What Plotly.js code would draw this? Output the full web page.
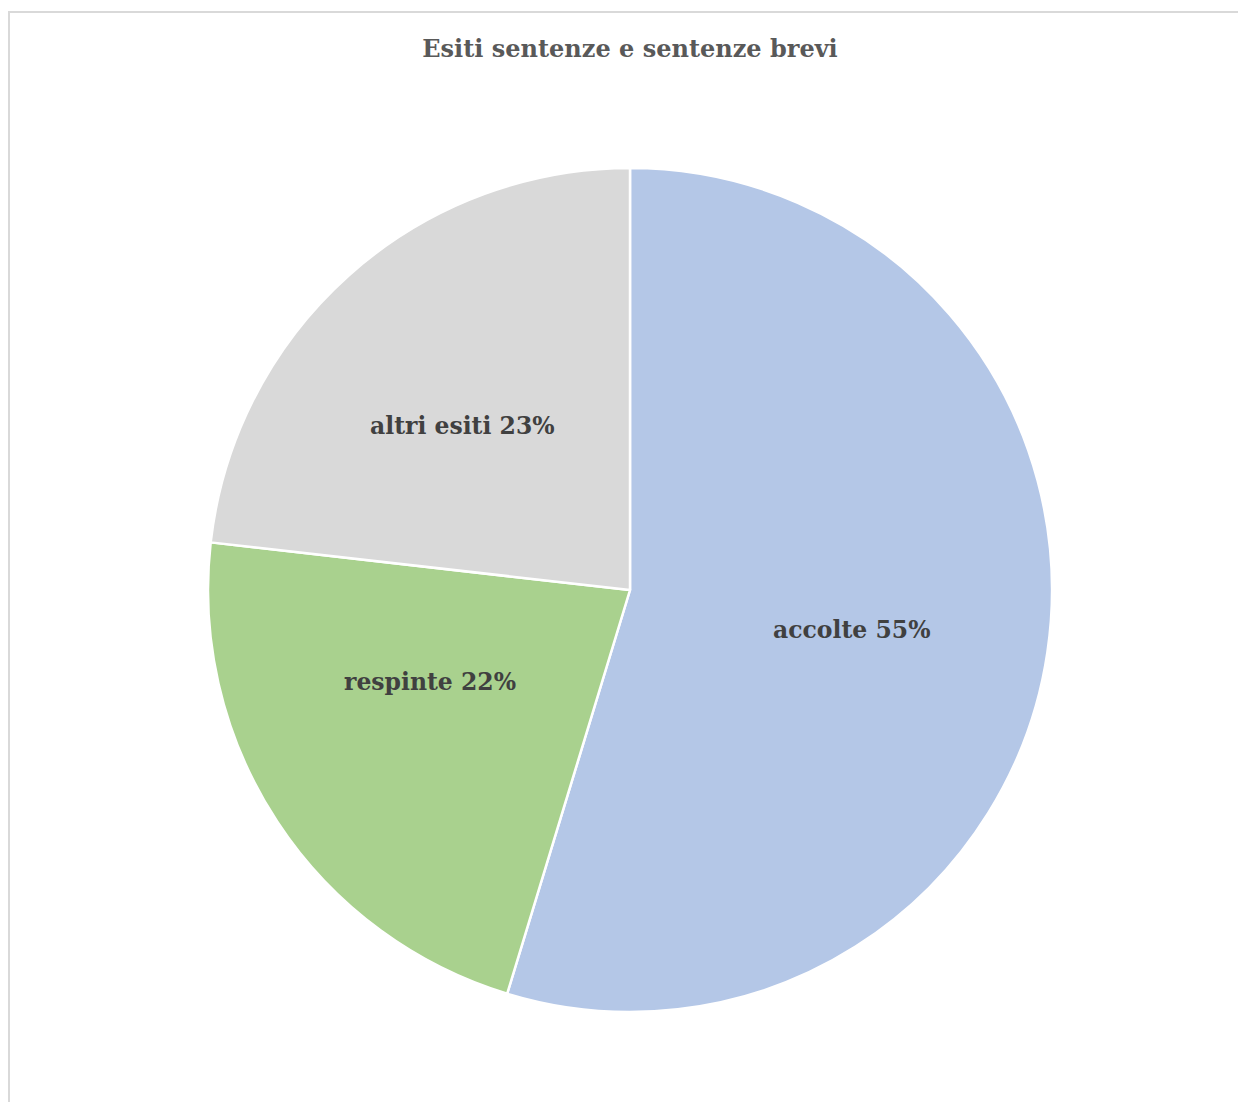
<!DOCTYPE html>
<html>
<head>
<meta charset="utf-8">
<script src="https://cdn.plot.ly/plotly-3.0.1.min.js"></script>
<style>
  html, body { margin: 0; padding: 0; background: #ffffff; overflow: hidden; }
  #chart { position: absolute; left: 0; top: 0; width: 1238px; height: 1102px; }
  #frame { position: absolute; left: 8px; top: 11px; width: 1300px; height: 1200px;
           border-left: 2px solid #d9d9d9; border-top: 2px solid #d9d9d9; pointer-events: none; }
</style>
</head>
<body>
<div id="chart"></div>
<div id="frame"></div>
<script>
const titleText = "Esiti sentenze e sentenze brevi";
const categories = ["accolte", "respinte", "altri esiti"];
const values = [54.7, 22.1, 23.2];
const colors = ["#b4c7e7", "#a9d18e", "#d9d9d9"];

const W = 1238, H = 1102;
const cx = 630, cy = 590, R = 422;
const domain = {
  x: [(cx - R) / W, (cx + R) / W],
  y: [(H - (cy + R)) / H, (H - (cy - R)) / H]
};

// style: pixel nudges of each label from the slice mid-angle point (best-fit placement)
const labelNudge = [[0, 7], [-13, -31], [-19, 3]];

const total = values.reduce((a, b) => a + b, 0);
let cum = 0;
const annotations = categories.map((c, i) => {
  const frac = values[i] / total;
  const mid = (cum + frac / 2) * 2 * Math.PI;
  cum += frac;
  const r = 0.53 * R;
  const px = cx + r * Math.sin(mid) + labelNudge[i][0];
  const py = cy - r * Math.cos(mid) + labelNudge[i][1];
  return {
    x: px / W, y: 1 - py / H, xref: "paper", yref: "paper",
    text: "<b>" + c + " " + Math.round(frac * 100) + "%</b>",
    showarrow: false, xanchor: "center", yanchor: "middle",
    font: { family: "DejaVu Serif, serif", size: 23.5, color: "#404040" }
  };
});

const data = [{
  type: "pie",
  labels: categories,
  values: values,
  marker: { colors: colors, line: { color: "#ffffff", width: 2.5 } },
  sort: false,
  direction: "clockwise",
  rotation: 0,
  textinfo: "none",
  hoverinfo: "label+percent",
  showlegend: false,
  domain: domain
}];

const layout = {
  width: W, height: H,
  margin: { l: 0, r: 0, t: 0, b: 0 },
  paper_bgcolor: "#ffffff",
  title: {
    text: "<b>" + titleText + "</b>",
    x: 630 / W, xanchor: "center",
    y: 1 - 49 / H, yanchor: "middle",
    font: { family: "DejaVu Serif, serif", size: 24, color: "#595959" }
  },
  annotations: annotations,
  showlegend: false
};

Plotly.newPlot("chart", data, layout, { displayModeBar: false, staticPlot: true });
</script>
</body>
</html>
